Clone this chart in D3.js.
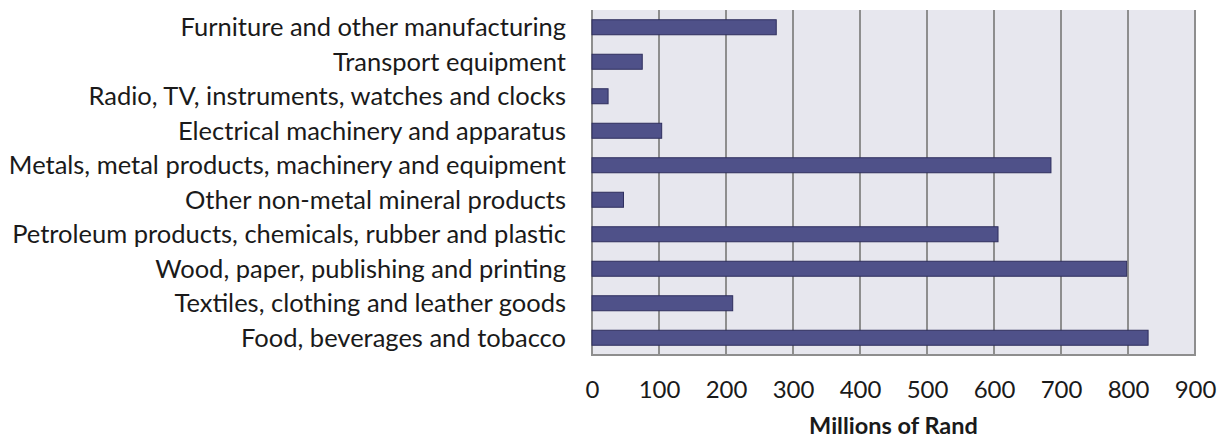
<!DOCTYPE html>
<html><head><meta charset="utf-8">
<script src="https://cdn.jsdelivr.net/npm/d3@7"></script>
<style>body{margin:0;background:#fff;} svg{display:block;}</style>
</head><body>
<svg id="chart" width="1225" height="441"></svg>
<script>
const categories = [
  "Furniture and other manufacturing",
  "Transport equipment",
  "Radio, TV, instruments, watches and clocks",
  "Electrical machinery and apparatus",
  "Metals, metal products, machinery and equipment",
  "Other non-metal mineral products",
  "Petroleum products, chemicals, rubber and plastic",
  "Wood, paper, publishing and printing",
  "Textiles, clothing and leather goods",
  "Food, beverages and tobacco"
];
const values = [275, 75, 24, 104, 685, 47, 606, 798, 210, 830];
const xTicks = [0, 100, 200, 300, 400, 500, 600, 700, 800, 900];
const xTitle = "Millions of Rand";

const svg = d3.select("#chart");
const font = "Lato, 'Open Sans', sans-serif";
const m = {left: 592, right: 1195, top: 10, bottom: 355};
const x = d3.scaleLinear().domain([0, 900]).range([m.left, m.right]);
const y = d3.scaleBand().domain(categories).range([m.top, m.bottom]).paddingInner(0.565).paddingOuter(0.2825);

svg.append("rect").attr("x", m.left).attr("y", m.top).attr("width", m.right - m.left).attr("height", m.bottom - m.top)
  .attr("fill", "#e7e7ee");

// grid lines
svg.append("g").selectAll("line").data(xTicks).join("line")
  .attr("x1", d => x(d)).attr("x2", d => x(d)).attr("y1", m.top).attr("y2", m.bottom)
  .attr("stroke", "#8e8e8e").attr("stroke-width", 2);
// bottom border
svg.append("line").attr("x1", m.left - 1).attr("x2", m.right + 1).attr("y1", m.bottom).attr("y2", m.bottom)
  .attr("stroke", "#8e8e8e").attr("stroke-width", 2);

// bars
svg.append("g").selectAll("rect").data(categories).join("rect")
  .attr("x", x(0)).attr("y", d => y(d))
  .attr("width", (d, i) => x(values[i]) - x(0)).attr("height", y.bandwidth())
  .attr("fill", "#4f5189").attr("stroke", "#2f2f5e").attr("stroke-width", 1);

// y axis labels
const yAxis = d3.axisLeft(y).tickSize(0).tickPadding(26);
const gy = svg.append("g").attr("transform", `translate(${m.left},0)`).call(yAxis);
gy.select(".domain").remove();
gy.selectAll("text").attr("font-family", font).attr("font-size", 25.5).attr("fill", "#1a1a1a").attr("dy", "0.35em");

// x axis labels
const xAxis = d3.axisBottom(x).tickValues(xTicks).tickSize(0).tickPadding(0).tickFormat(d3.format("d"));
const gx = svg.append("g").attr("transform", `translate(0,${m.bottom})`).call(xAxis);
gx.select(".domain").remove();
gx.selectAll("text").attr("font-family", font).attr("font-size", 24).attr("fill", "#1a1a1a")
  .attr("dy", null).attr("y", 43);

svg.append("text").attr("x", (m.left + m.right) / 2).attr("y", 434).attr("text-anchor", "middle")
  .attr("font-family", font).attr("font-size", 23.5).attr("font-weight", "bold").attr("fill", "#1a1a1a").text(xTitle);
</script>
</body></html>
